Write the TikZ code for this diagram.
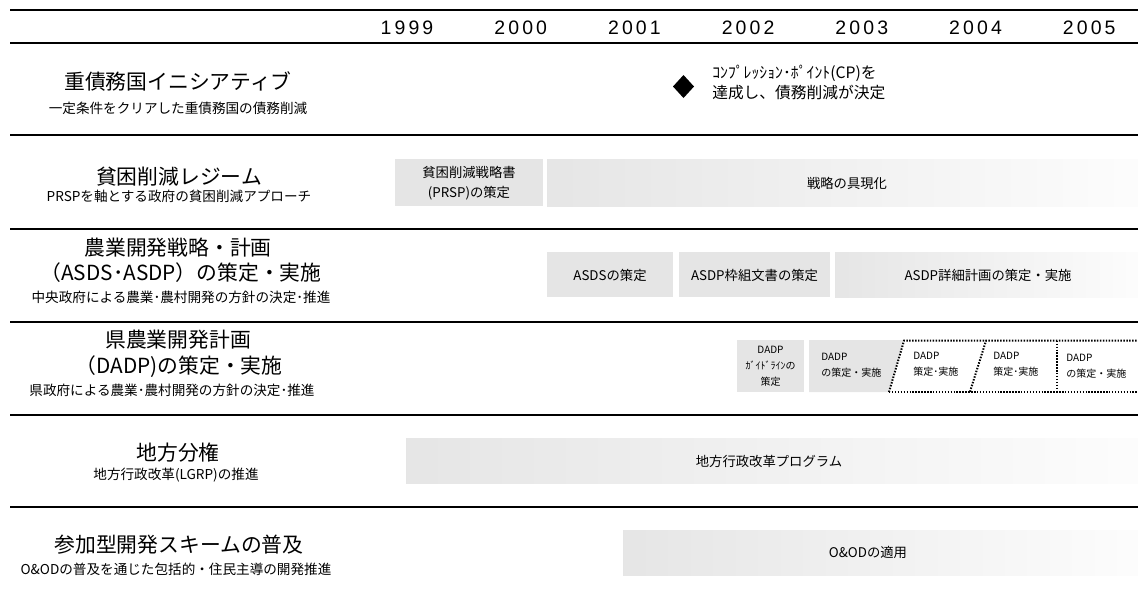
\documentclass[tikz,border=0pt]{standalone}
\usepackage{fontspec}
\setmainfont{Noto Sans CJK JP}
\newfontfamily\yearfont[LetterSpace=16]{Liberation Sans}
\begin{document}
\begin{tikzpicture}[x=0.75pt,y=-0.75pt,
  rule/.style={line width=1.5pt, black},
  ttl/.style={font=\fontsize{15.6}{19}\selectfont, inner sep=0},
  subt/.style={font=\fontsize{10.2}{12}\selectfont, inner sep=0},
  flatbox/.style={fill=black!10, draw=none},
  fadebox/.style={left color=black!10, right color=black!1, draw=none},
  boxtext/.style={font=\fontsize{10}{15}\selectfont, inner sep=0, align=center},
  smalltext/.style={font=\fontsize{7.5}{12}\selectfont, inner sep=0},
  yr/.style={font=\yearfont\fontsize{14.6}{16}\selectfont, inner sep=0, anchor=base},
  cptext/.style={font=\fontsize{11.8}{15}\selectfont, inner sep=0, anchor=west},
  dots/.style={line width=1.5pt, dash pattern=on 1.1pt off 1.1pt}
]
\useasboundingbox (0,0) rectangle (1138,596);

% horizontal rules
\foreach \yy in {10,43,135,228.5,322,414.5,506.5}
  \draw[rule] (10,\yy) -- (1138,\yy);

% years
\node[yr] (y1999) at (407,34) {1999};
\node[yr] (y2000) at (520.7,34) {2000};
\node[yr] (y2001) at (634.4,34) {2001};
\node[yr] (y2002) at (748.1,34) {2002};
\node[yr] (y2003) at (861.8,34) {2003};
\node[yr] (y2004) at (975.5,34) {2004};
\node[yr] (y2005) at (1089.2,34) {2005};

% row 1
\node[ttl] (t1) at (178,81) {重債務国イニシアティブ};
\node[subt] (s1) at (178,108) {一定条件をクリアした重債務国の債務削減};
\fill[black] (683.5,75) -- (694,86.5) -- (683.5,98) -- (673,86.5) -- cycle;
\node[cptext] (cp1) at (712,73) {ｺﾝﾌﾟﾚｯｼｮﾝ･ﾎﾟｲﾝﾄ(CP)を};
\node[cptext] (cp2) at (712,93) {達成し、債務削減が決定};

% row 2
\node[ttl] (t2) at (179,177) {貧困削減レジーム};
\node[subt] (s2) at (179,196) {PRSPを軸とする政府の貧困削減アプローチ};
\path[flatbox] (395,159) rectangle (543,206);
\path[fadebox] (547,159) rectangle (1138,206);
\node[boxtext] (prsp) at (469,183) {貧困削減戦略書\\(PRSP)の策定};
\node[boxtext] (gugen) at (847,183) {戦略の具現化};

% row 3
\node[ttl] (t3a) at (178,248) {農業開発戦略・計画};
\node[ttl] (t3b) at (181,273) {（ASDS･ASDP）の策定・実施};
\node[subt] (s3) at (181,297) {中央政府による農業･農村開発の方針の決定･推進};
\path[flatbox] (547,252) rectangle (673,297);
\path[flatbox] (679,252) rectangle (830,297);
\path[fadebox] (835,252) rectangle (1138,297);
\node[boxtext] (asds) at (610,275) {ASDSの策定};
\node[boxtext] (asdpw) at (754.5,275) {ASDP枠組文書の策定};
\node[boxtext] (asdpd) at (988,275) {ASDP詳細計画の策定・実施};

% row 4
\node[ttl] (t4a) at (178,340) {県農業開発計画};
\node[ttl] (t4b) at (179,367) {（DADP)の策定・実施};
\node[subt] (s4) at (172,390) {県政府による農業･農村開発の方針の決定･推進};
\path[flatbox] (737,340) rectangle (804,392);
\path[flatbox] (809,340) -- (904,340) -- (889,392) -- (809,392) -- cycle;
\draw[dots] (889,392) -- (904,340.7) -- (1138,340.7);
\draw[dots] (889,391.7) -- (1138,391.7);
\draw[dots] (970,391.7) -- (986,340.7);
\draw[dots] (1057,340.7) -- (1057,391.7);
\node[smalltext, align=center] (dg) at (770.5,366) {DADP\\ｶﾞｲﾄﾞﾗｲﾝの\\策定};
\node[smalltext, align=left, anchor=west] (d2) at (821,365) {DADP\\の策定・実施};
\node[smalltext, align=left, anchor=west] (d3) at (913,364) {DADP\\策定･実施};
\node[smalltext, align=left, anchor=west] (d4) at (993,364) {DADP\\策定･実施};
\node[smalltext, align=left, anchor=west] (d5) at (1066,366) {DADP\\の策定・実施};

% row 5
\node[ttl] (t5) at (178,453) {地方分権};
\node[subt] (s5) at (176,475) {地方行政改革(LGRP)の推進};
\path[fadebox] (406,438) rectangle (1138,483);
\node[boxtext] (lgrp) at (769,461) {地方行政改革プログラム};

% row 6
\node[ttl] (t6) at (179,545) {参加型開発スキームの普及};
\node[subt] (s6) at (176,569) {O\&ODの普及を通じた包括的・住民主導の開発推進};
\path[fadebox] (623,530) rectangle (1138,575);
\node[boxtext] (ood) at (868,552) {O\&ODの適用};
\end{tikzpicture}
\end{document}
